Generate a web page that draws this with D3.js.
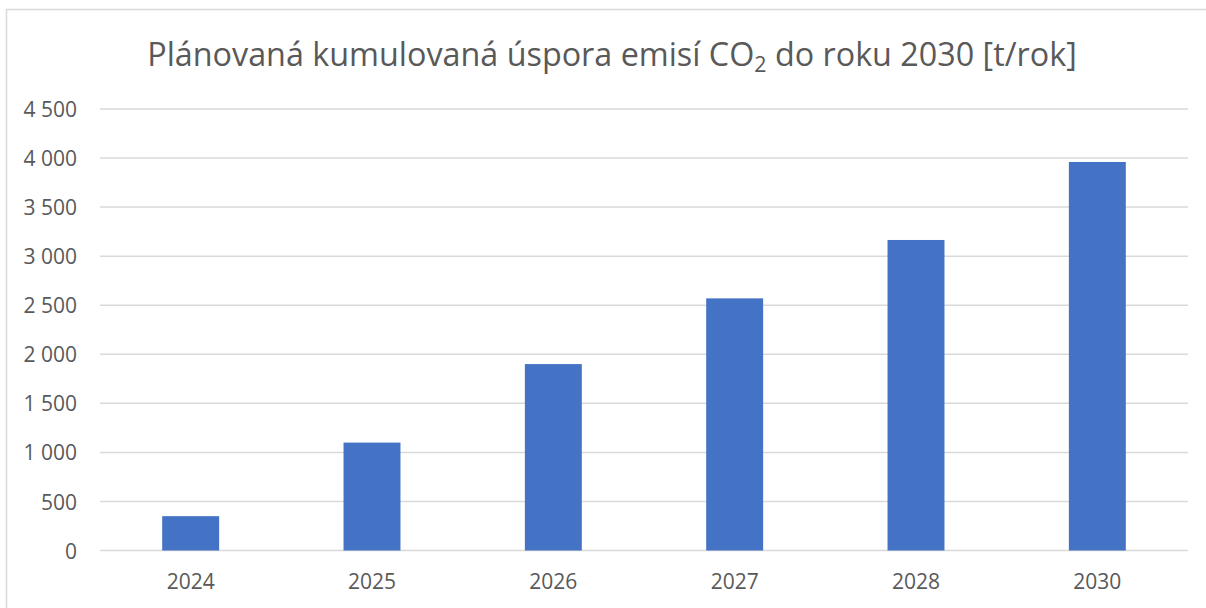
<!DOCTYPE html>
<html>
<head>
<meta charset="utf-8">
<script src="https://cdn.jsdelivr.net/npm/d3@7"></script>
<style>
  html, body { margin: 0; background: #fff; overflow: hidden; }
  svg { display: block; }
  svg text { font-family: "Open Sans", sans-serif; fill: #595959; }
</style>
</head>
<body>
<div id="chart"></div>
<script>
// data
const years = ['2024', '2025', '2026', '2027', '2028', '2030'];
const savings = [350, 1100, 1900, 2570, 3165, 3960];
const yTicks = [0, 500, 1000, 1500, 2000, 2500, 3000, 3500, 4000, 4500];

const width = 1206;
const height = 608;
const margin = { top: 109, right: 18, bottom: 57.5, left: 100 };

const svg = d3.select('#chart').append('svg')
  .attr('width', width)
  .attr('height', height);

// outer chart frame (only top/left visible in the picture)
svg.append('rect')
  .attr('x', 6.5)
  .attr('y', 9.5)
  .attr('width', width + 20)
  .attr('height', height + 20)
  .attr('fill', 'none')
  .attr('stroke', '#d9d9d9')
  .attr('stroke-width', 1.5);

let x = d3.scaleBand()
  .domain(years)
  .range([margin.left, width - margin.right])
  .paddingInner(0.686)
  .paddingOuter(0.343);

let y = d3.scaleLinear()
  .domain([0, 4500])
  .range([height - margin.bottom, margin.top]);

// gridlines
svg.append('g')
  .selectAll('line')
  .data(yTicks)
  .enter()
  .append('line')
  .attr('x1', margin.left)
  .attr('x2', width - margin.right)
  .attr('y1', d => y(d))
  .attr('y2', d => y(d))
  .attr('stroke', '#d9d9d9')
  .attr('stroke-width', 1.5);

// bars
svg.append('g')
  .selectAll('rect')
  .data(savings)
  .enter()
  .append('rect')
  .attr('x', (d, i) => x(years[i]))
  .attr('width', x.bandwidth())
  .attr('y', d => y(d))
  .attr('height', d => y(0) - y(d))
  .attr('fill', '#4472c4');

// y axis labels
let yAxis = d3.axisLeft(y).tickValues(yTicks).tickSize(0).tickPadding(0)
  .tickFormat(d => d3.format(',')(d).replace(/,/g, ' '));
svg.append('g')
  .attr('transform', `translate(77,0)`)
  .call(yAxis)
  .call(g => g.select('.domain').remove())
  .selectAll('text')
  .attr('font-size', 21)
  .attr('dy', '0.36em')
  .attr('fill', '#595959');

// x axis labels
let xAxis = d3.axisBottom(x).tickSize(0).tickPadding(0);
svg.append('g')
  .attr('transform', `translate(0,${y(0)})`)
  .call(xAxis)
  .call(g => g.select('.domain').remove())
  .selectAll('text')
  .attr('font-size', 21)
  .attr('dy', '1.83em')
  .attr('fill', '#595959');

// title with CO2 subscript
let titleSize = 30;
let title = svg.append('text')
  .attr('x', 612)
  .attr('y', 65.5)
  .attr('text-anchor', 'middle')
  .attr('font-size', titleSize);
title.append('tspan').text('Plánovaná kumulovaná úspora emisí CO');
let sub = title.append('tspan').text('2').attr('font-size', titleSize * 0.66).attr('dy', 6);
title.append('tspan').text(' do roku 2030 [t/rok]').attr('dy', -6);

// fit title to the width it has in the reference (147..1077)
let k = 930 / title.node().getBBox().width;
title.attr('font-size', titleSize * k);
sub.attr('font-size', titleSize * 0.66 * k);
</script>
</body>
</html>
